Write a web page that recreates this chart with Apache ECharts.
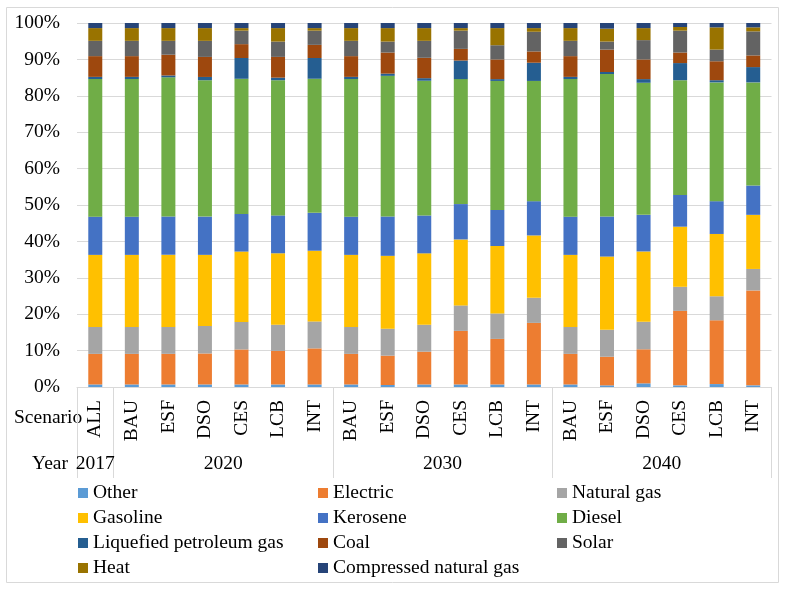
<!DOCTYPE html>
<html>
<head>
<meta charset="utf-8">
<script src="https://cdn.jsdelivr.net/npm/echarts@6.0.0/dist/echarts.min.js"></script>
<style>
html,body{margin:0;padding:0;background:#fff;}
#chart{width:788px;height:590px;}
</style>
</head>
<body>
<div id="chart"></div>
<script>
// Categories (scenario per year)
const scenarios = ['ALL','BAU','ESF','DSO','CES','LCB','INT','BAU','ESF','DSO','CES','LCB','INT','BAU','ESF','DSO','CES','LCB','INT'];
const yearLabels = ['2017','2020','2030','2040'];
const yearLabelPositions = [0.5, 4, 10, 16];
const yearSeparators = [0, 1, 7, 13, 19];
const yTickLabels = ['0%','10%','20%','30%','40%','50%','60%','70%','80%','90%','100%'];

// Series values (% share)
const other      = [0.7,0.7,0.7,0.7,0.7,0.7,0.7, 0.7,0.55,0.7,0.7,0.7,0.7, 0.7,0.45,1.0,0.45,0.8,0.45];
const electric   = [8.4,8.4,8.4,8.5,9.6,9.2,9.9, 8.4,8.05,9.0,14.7,12.5,16.9, 8.4,7.85,9.35,20.45,17.5,26.05];
const naturalGas = [7.4,7.4,7.4,7.55,7.55,7.2,7.4, 7.4,7.4,7.4,7.0,7.0,6.9, 7.4,7.4,7.55,6.6,6.6,5.9];
const gasoline   = [19.8,19.8,19.8,19.5,19.3,19.6,19.4, 19.8,20.0,19.6,18.1,18.5,17.1, 19.8,20.1,19.3,16.5,17.1,14.85];
const kerosene   = [10.5,10.5,10.5,10.5,10.3,10.4,10.4, 10.5,10.8,10.4,9.7,9.9,9.4, 10.5,11.0,10.05,8.7,9.0,8.05];
const diesel     = [37.8,37.8,38.2,37.4,37.1,37.1,36.8, 37.8,38.6,37.0,34.3,35.4,33.0, 37.8,39.1,36.25,31.5,32.6,28.3];
const lpg        = [0.6,0.6,0.5,0.9,5.7,0.7,5.7, 0.6,0.6,0.7,5.1,0.5,5.0, 0.6,0.55,1.0,4.7,0.6,4.2];
const coal       = [5.7,5.7,5.7,5.5,3.8,5.7,3.6, 5.7,5.8,5.6,3.2,5.4,3.1, 5.7,6.15,5.4,2.9,5.2,3.2];
const solar      = [4.2,4.2,3.8,4.4,3.7,4.2,3.9, 4.2,3.0,4.65,5.0,3.9,5.4, 4.2,2.2,5.3,6.0,3.2,6.6];
const heat       = [3.5,3.5,3.5,3.5,0.7,3.7,0.7, 3.5,3.7,3.5,0.7,4.7,1.0, 3.5,3.55,3.3,1.0,6.1,1.1];
const cng        = [1.4,1.4,1.4,1.4,1.4,1.4,1.4, 1.4,1.4,1.4,1.4,1.4,1.4, 1.4,1.55,1.4,1.1,1.2,1.2];

const seriesNames = ['Other','Electric','Natural gas','Gasoline','Kerosene','Diesel','Liquefied petroleum gas','Coal','Solar','Heat','Compressed natural gas'];
const seriesValues = [other, electric, naturalGas, gasoline, kerosene, diesel, lpg, coal, solar, heat, cng];
const colors = ['#5B9BD5','#ED7D31','#A5A5A5','#FFC000','#4472C4','#70AD47','#255E91','#9E480E','#636363','#997300','#264478'];

// 100% stacking: normalise each column
const totals = scenarios.map((_, i) => seriesValues.reduce((s, arr) => s + arr[i], 0));
const FONT = 'Liberation Serif';
const FS = 19.5;

const series = seriesNames.map((name, k) => ({
  name: name,
  type: 'bar',
  stack: 'total',
  barWidth: 14,
  itemStyle: { color: colors[k] },
  emphasis: { disabled: true },
  data: seriesValues[k].map((v, i) => v / totals[i] * 100)
}));

const legendText = { fontFamily: FONT, fontSize: FS, color: '#000', lineHeight: 20 };
function legendCol(left, names) {
  return {
    orient: 'vertical', left: left, top: 478, itemGap: 5,
    itemWidth: 10, itemHeight: 10, icon: 'rect',
    textStyle: legendText, data: names, selectedMode: false
  };
}

const chart = echarts.init(document.getElementById('chart'), null, { renderer: 'canvas' });
chart.setOption({
  animation: false,
  color: colors,
  grid: { left: 77, right: 16.5, top: 23, bottom: 203, containLabel: false },
  xAxis: [
    {
      type: 'category',
      data: scenarios,
      axisLine: { show: true, lineStyle: { color: '#d9d9d9', width: 1 } },
      axisTick: { show: false },
      axisLabel: { rotate: 90, margin: 13, interval: 0, fontFamily: FONT, fontSize: FS, color: '#000' }
    },
    {
      type: 'value',
      position: 'bottom',
      min: 0, max: 19, interval: 1,
      axisLine: { show: false },
      splitLine: { show: false },
      axisTick: { show: true, customValues: yearSeparators, length: 91, inside: false, lineStyle: { color: '#d9d9d9', width: 1 } },
      axisLabel: {
        show: true, customValues: yearLabelPositions, margin: 67,
        fontFamily: FONT, fontSize: FS, color: '#000',
        formatter: function (v) {
          const idx = yearLabelPositions.indexOf(v);
          return idx >= 0 ? yearLabels[idx] : '';
        }
      }
    }
  ],
  yAxis: {
    type: 'value', min: 0, max: 100, interval: 10,
    axisLine: { show: false }, axisTick: { show: false },
    splitLine: { lineStyle: { color: '#d9d9d9', width: 1 } },
    axisLabel: {
      margin: 17, fontFamily: FONT, fontSize: FS, color: '#000',
      formatter: function (v) { return yTickLabels[Math.round(v / 10)]; }
    }
  },
  legend: [
    legendCol(73, ['Other','Gasoline','Liquefied petroleum gas','Heat']),
    legendCol(313, ['Electric','Kerosene','Coal','Compressed natural gas']),
    legendCol(552, ['Natural gas','Diesel','Solar'])
  ],
  graphic: [
    { type: 'rect', shape: { x: 6.5, y: 7.5, width: 772, height: 575 }, style: { fill: 'none', stroke: '#d9d9d9', lineWidth: 1 }, silent: true, z: -1 },
    { type: 'text', left: 14, top: 408, style: { text: 'Scenario', font: FS + 'px "' + FONT + '"', fill: '#000' } },
    { type: 'text', left: 32, top: 454, style: { text: 'Year', font: FS + 'px "' + FONT + '"', fill: '#000' } }
  ],
  series: series
});
</script>
</body>
</html>
